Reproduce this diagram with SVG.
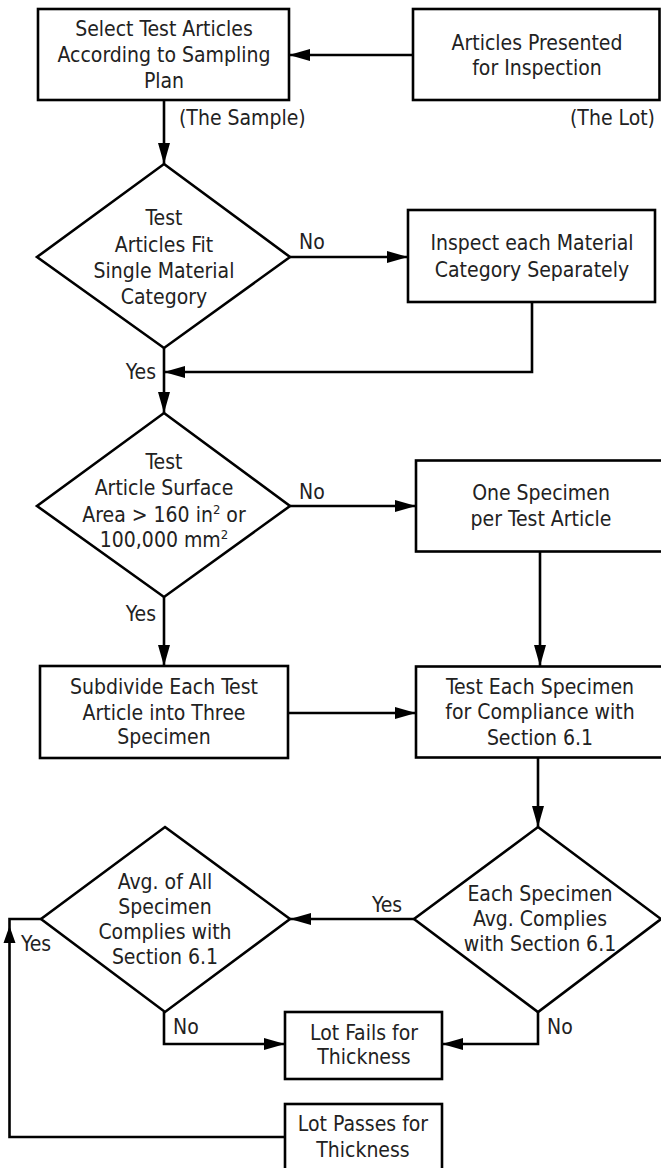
<svg xmlns="http://www.w3.org/2000/svg" width="661" height="1168" viewBox="0 0 661 1168">
<style>
.box{fill:#fff;stroke:#000;stroke-width:2.6}
.dia{fill:#fff;stroke:#000;stroke-width:2.6;stroke-linejoin:miter}
.con{fill:none;stroke:#000;stroke-width:2.6}
text{font-family:"DejaVu Sans Condensed","DejaVu Sans",sans-serif;font-stretch:condensed;font-size:21px;fill:#222}
.c{text-anchor:middle}
.e{text-anchor:end}
.sup{font-size:13px}
</style>
<defs>
<marker id="ah" markerUnits="userSpaceOnUse" markerWidth="22" markerHeight="12" viewBox="0 0 21 12" refX="21" refY="6" orient="auto">
<path d="M0,0 L21,6 L0,12 z" fill="#000"/>
</marker>
</defs>
<rect width="661" height="1168" fill="#fff"/>
<g id="connectors">
<path class="con" d="M413,55 H289" marker-end="url(#ah)"/>
<path class="con" d="M164,100 V164" marker-end="url(#ah)"/>
<path class="con" d="M290,257 H408" marker-end="url(#ah)"/>
<path class="con" d="M532,302 V372 H164" marker-end="url(#ah)"/>
<path class="con" d="M164,348 V413" marker-end="url(#ah)"/>
<path class="con" d="M290,506 H416" marker-end="url(#ah)"/>
<path class="con" d="M164,597 V666" marker-end="url(#ah)"/>
<path class="con" d="M540,552 V666" marker-end="url(#ah)"/>
<path class="con" d="M288,713 H416" marker-end="url(#ah)"/>
<path class="con" d="M538,758 V827" marker-end="url(#ah)"/>
<path class="con" d="M414,919 H290" marker-end="url(#ah)"/>
<path class="con" d="M164,1012 V1044 H285" marker-end="url(#ah)"/>
<path class="con" d="M538,1012 V1044 H442" marker-end="url(#ah)"/>
<path class="con" d="M285,1137 H9.5 V919 H41"/>
<path d="M9.5,926 L15.5,943 L3.5,943 z" fill="#000"/>
<text x="179" y="125">(The Sample)</text>
<text class="e" x="655" y="125">(The Lot)</text>
<text x="299" y="249">No</text>
<text class="e" x="156" y="379">Yes</text>
<text x="299" y="499">No</text>
<text class="e" x="156" y="621">Yes</text>
<text class="c" x="387" y="912">Yes</text>
<text x="21" y="951">Yes</text>
<text x="173" y="1034">No</text>
<text x="547" y="1034">No</text>
</g>
<g id="select">
<rect class="box" x="38" y="9" width="251" height="91"/>
<text class="c" x="164" y="36">Select Test Articles</text>
<text class="c" x="164" y="62">According to Sampling</text>
<text class="c" x="164" y="88">Plan</text>
</g>
<g id="presented">
<rect class="box" x="413" y="9" width="246.5" height="91"/>
<text class="c" x="537" y="50">Articles Presented</text>
<text class="c" x="537" y="75">for Inspection</text>
</g>
<g id="fitcategory">
<polygon class="dia" points="164,164 290,257 164,348 37,257"/>
<text class="c" x="164" y="225">Test</text>
<text class="c" x="164" y="252">Articles Fit</text>
<text class="c" x="164" y="278">Single Material</text>
<text class="c" x="164" y="304">Category</text>
</g>
<g id="inspect">
<rect class="box" x="408" y="210" width="247" height="92"/>
<text class="c" x="532" y="250">Inspect each Material</text>
<text class="c" x="532" y="277">Category Separately</text>
</g>
<g id="surface">
<polygon class="dia" points="164,413 290,506 164,597 37,506"/>
<text class="c" x="164" y="469">Test</text>
<text class="c" x="164" y="495">Article Surface</text>
<text class="c" x="164" y="522">Area &gt; 160 in<tspan class="sup" dy="-8">2</tspan><tspan dy="8"> or</tspan></text>
<text class="c" x="164" y="547">100,000 mm<tspan class="sup" dy="-8">2</tspan></text>
</g>
<g id="onespecimen">
<rect class="box" x="416" y="460.5" width="250" height="91"/>
<text class="c" x="541" y="500">One Specimen</text>
<text class="c" x="541" y="526">per Test Article</text>
</g>
<g id="subdivide">
<rect class="box" x="40" y="666" width="248" height="92"/>
<text class="c" x="164" y="694">Subdivide Each Test</text>
<text class="c" x="164" y="720">Article into Three</text>
<text class="c" x="164" y="744">Specimen</text>
</g>
<g id="testeach">
<rect class="box" x="416" y="666.5" width="250" height="91"/>
<text class="c" x="540" y="694">Test Each Specimen</text>
<text class="c" x="540" y="719">for Compliance with</text>
<text class="c" x="540" y="745">Section 6.1</text>
</g>
<g id="avgall">
<polygon class="dia" points="165,827 290,919 165,1012 41,919"/>
<text class="c" x="165" y="889">Avg. of All</text>
<text class="c" x="165" y="914">Specimen</text>
<text class="c" x="165" y="939">Complies with</text>
<text class="c" x="165" y="964">Section 6.1</text>
</g>
<g id="eachavg">
<polygon class="dia" points="538,827 661,919 538,1012 414,919"/>
<text class="c" x="540" y="901">Each Specimen</text>
<text class="c" x="540" y="926">Avg. Complies</text>
<text class="c" x="540" y="951">with Section 6.1</text>
</g>
<g id="fails">
<rect class="box" x="285" y="1012" width="157" height="67"/>
<text class="c" x="364" y="1040">Lot Fails for</text>
<text class="c" x="364" y="1064">Thickness</text>
</g>
<g id="passes">
<rect class="box" x="285" y="1104" width="157" height="80"/>
<text class="c" x="363" y="1131">Lot Passes for</text>
<text class="c" x="363" y="1157">Thickness</text>
</g>
</svg>
